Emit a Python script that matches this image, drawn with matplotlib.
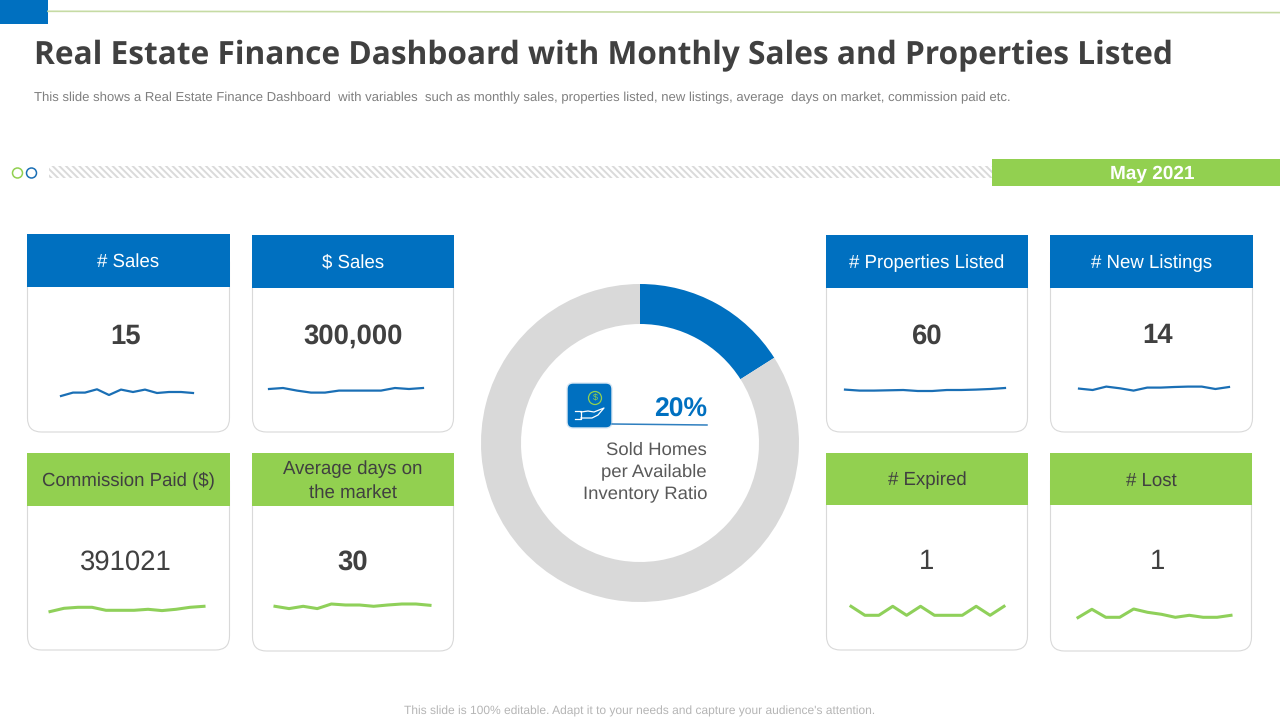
#!/usr/bin/env python3
import numpy as np
import matplotlib
matplotlib.use("Agg")
import matplotlib.pyplot as plt
from matplotlib.patches import Rectangle, FancyBboxPatch, Circle

plt.rcParams['font.family'] = ['Liberation Sans', 'DejaVu Sans']
plt.rcParams['hatch.linewidth'] = 1.4
plt.rcParams['text.hinting'] = 'no_hinting'

BLUE = "#0070C0"
GREEN = "#92D050"
LINE_BLUE = "#1A6FB5"
LINE_GREEN = "#8FD05A"
DARK = "#404040"

W, H = 1280, 720

title = "Real Estate Finance Dashboard with Monthly Sales and Properties Listed"
subtitle = ("This slide shows a Real Estate Finance Dashboard  with variables  such as monthly sales, "
            "properties listed, new listings, average  days on market, commission paid etc.")
footer = "This slide is 100% editable. Adapt it to your needs and capture your audience's attention."
month = "May 2021"

headers = ["# Sales", "$ Sales", "Commission Paid ($)", "Average days on\nthe market",
           "# Properties Listed", "# New Listings", "# Expired", "# Lost"]
numbers = ["15", "300,000", "391021", "30", "60", "14", "1", "1"]
bold_number = [True, True, False, True, True, True, False, False]

# sparkline values
sales_count = [2.3, 5.7, 5.7, 9.0, 3.3, 8.7, 6.3, 8.7, 5.3, 6.3, 6.3, 5.3]
sales_amount = [9.3, 10.3, 7.7, 5.7, 5.7, 7.7, 7.7, 7.7, 7.7, 10.3, 9.3, 10.3]
commission = [6.7, 10, 11, 11, 8, 8, 8, 9, 7.7, 9, 11, 12]
avg_days = [12, 9.7, 12, 9.7, 14.3, 13.3, 13.3, 12, 13.3, 14.3, 14.3, 13]
listed = [8.7, 7.7, 7.7, 8, 8.3, 7.3, 7.3, 8.3, 8.3, 8.7, 9.3, 10.3]
new_listings = [9.7, 8.3, 11.7, 10, 7.7, 10.7, 10.7, 11.3, 11.7, 11.7, 9.3, 11.3]
expired = [12, 3, 3, 12, 3, 12, 3, 3, 3, 12, 3, 12]
lost = [0.7, 9, 1, 1, 9.3, 6, 4, 1, 3, 1, 1, 3]
sparks = [sales_count, sales_amount, commission, avg_days, listed, new_listings, expired, lost]

donut_values = [16, 84]
donut_colors = [BLUE, "#D9D9D9"]
ratio_text = "20%"
ratio_label = "Sold Homes\nper Available\nInventory Ratio"

# card layout in pixels: left, right, header top, header bottom, card bottom
cards = [
    (27, 230, 234, 287, 432),
    (252, 454, 235, 288, 432),
    (27, 230, 453, 506, 650),
    (252, 454, 453, 506, 651),
    (826, 1028, 235, 288, 432),
    (1050, 1253, 235, 288, 432),
    (826, 1028, 453, 505, 650),
    (1050, 1252, 453, 505, 651),
]
# sparkline x range and baseline in pixels
spark_pos = [
    (61, 193, 398.3), (269, 423, 398.3), (50, 204, 618.3), (275, 430, 618.3),
    (845, 1005, 398.3), (1079, 1229, 398.3), (851, 1004, 618.3), (1078, 1231, 618.3),
]
number_pos = [(126, 335), (353, 335), (126, 561), (353, 561),
              (927, 335), (1158, 335), (927, 561), (1158, 561)]

fig = plt.figure(figsize=(W / 100, H / 100), dpi=100, facecolor="white")
bg = fig.add_axes([0, 0, 1, 1])
bg.set_xlim(0, W)
bg.set_ylim(H, 0)
bg.axis("off")


def px(size):
    return size * 0.72


# top decoration
bg.add_patch(Rectangle((0, 0), 48, 24, fc=BLUE, ec="none"))
bg.plot([48, 640, 1280], [11.3, 12, 12.6], color="#C6DBA4", lw=1.2)

bg.text(34, 55.5, title, fontsize=px(31.6), fontweight="bold", family=["Open Sans", "DejaVu Sans"],
        color=DARK, ha="left", va="center")
bg.text(34, 98, subtitle, fontsize=px(13.1), color="#7F7F7F", ha="left", va="center")

# hatched strip with month
bg.add_patch(Circle((17.5, 173), 5, fc="white", ec=GREEN, lw=1.1))
bg.add_patch(Circle((31.5, 173), 5, fc="white", ec=LINE_BLUE, lw=1.1))
bg.add_patch(Rectangle((49, 166), 943, 12, fc="white", ec="#DADADA", lw=0, hatch="\\\\\\\\\\"))
bg.add_patch(Rectangle((992, 159), 288, 27, fc=GREEN, ec="none"))
bg.text(1152, 174, month, fontsize=px(19), fontweight="bold", color="white", ha="center", va="center")

# cards
for i, (left, right, top, hbot, bot) in enumerate(cards):
    bg.add_patch(FancyBboxPatch((left + 0.5, top + 14), right - left - 1, bot - top - 14,
                                boxstyle="round,pad=0,rounding_size=14", fc="white", ec="#D9D9D9", lw=0.8))
    is_blue = i in (0, 1, 4, 5)
    bg.add_patch(Rectangle((left, top), right - left, hbot - top, fc=BLUE if is_blue else GREEN, ec="none", zorder=3))
    bg.text((left + right) / 2, (top + hbot) / 2 + 1.5, headers[i], fontsize=px(18.7),
            color="white" if is_blue else DARK, ha="center", va="center", linespacing=1.42, zorder=4)
    bg.text(number_pos[i][0], number_pos[i][1] + 1, numbers[i], fontsize=px(27.5),
            fontweight="bold" if bold_number[i] else "normal", color=DARK, ha="center", va="center")

    x0, x1, base = spark_pos[i]
    ax = fig.add_axes([x0 / W, 1 - base / H, (x1 - x0) / W, 20 / H])
    ax.set_xlim(0, len(sparks[i]) - 1)
    ax.set_ylim(0, 20)
    ax.axis("off")
    ax.plot(np.arange(len(sparks[i])), sparks[i], color=LINE_BLUE if is_blue else LINE_GREEN,
            lw=1.6 if is_blue else 2.2, clip_on=False)

# donut
cx, cy, radius = 640, 443, 159
dax = fig.add_axes([(cx - radius) / W, 1 - (cy + radius) / H, 2 * radius / W, 2 * radius / H])
dax.pie(donut_values, colors=donut_colors, startangle=90, counterclock=False, radius=1,
        wedgeprops={"width": 40 / 159, "linewidth": 0})
dax.set_xlim(-1, 1)
dax.set_ylim(-1, 1)

# centre icon and text, on top of the donut axes
top = fig.add_axes([0, 0, 1, 1], facecolor="none")
top.set_xlim(0, W)
top.set_ylim(H, 0)
top.axis("off")
top.plot([612, 707], [424, 425], color="#2F7FBF", lw=1.1)
top.add_patch(FancyBboxPatch((567, 383), 45, 45, boxstyle="round,pad=0,rounding_size=6",
                             fc=BLUE, ec="#DCE9F4", lw=1))
top.add_patch(Circle((595, 398), 6.5, fc="none", ec=GREEN, lw=0.9))
top.text(595, 398, "$", fontsize=6.5, color=GREEN, ha="center", va="center")
top.plot([575, 581, 581, 575], [411, 411, 419, 419], color="white", lw=0.9)
top.plot([581, 588, 594, 604, 598, 592, 581], [412, 411, 412, 408, 415, 418, 418], color="white", lw=0.9)
top.text(707, 410, ratio_text, fontsize=px(26.5), fontweight="bold", color=BLUE, ha="right", va="center")
top.text(707, 472, ratio_label, fontsize=px(18.5), color="#595959", ha="right", va="center", linespacing=1.36)

bg.text(640, 711, footer, fontsize=px(12), color="#B5B5B5", ha="center", va="center")

fig.savefig("out.png", dpi=100)
